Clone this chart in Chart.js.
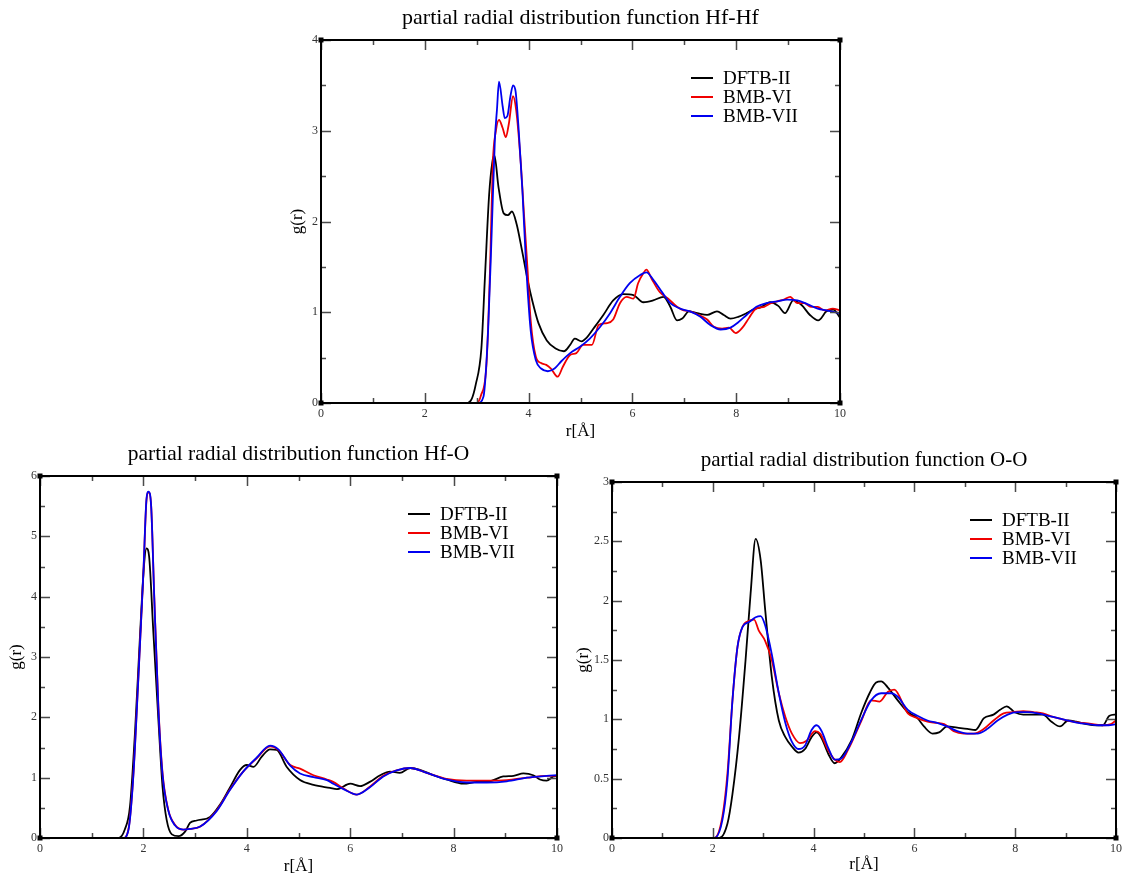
<!DOCTYPE html>
<html>
<head>
<meta charset="utf-8">
<script src="https://cdn.jsdelivr.net/npm/chart.js@4.4.1/dist/chart.umd.min.js"></script>
<style>
  html, body { margin: 0; padding: 0; background: #ffffff; }
  body { width: 1126px; height: 878px; position: relative; overflow: hidden; }
  canvas { position: absolute; }
</style>
</head>
<body>
<canvas id="cHfHf" width="600" height="445" style="left:270px; top:0px;"></canvas>
<canvas id="cHfO" width="580" height="448" style="left:0px; top:430px;"></canvas>
<canvas id="cOO" width="560" height="448" style="left:566px; top:430px;"></canvas>
<script>
// ---------------- DATA ----------------
const seriesNames = ['DFTB-II', 'BMB-VI', 'BMB-VII'];
const chartTitles = ['partial radial distribution function Hf-Hf', 'partial radial distribution function Hf-O', 'partial radial distribution function O-O'];
const xAxisTitle = 'r[Å]';
const yAxisTitle = 'g(r)';

// Hf-Hf
const hfhfDftbR = [0, 2.8, 2.9, 2.98, 3.09, 3.16, 3.24, 3.3, 3.34, 3.42, 3.52, 3.6, 3.68, 3.77, 3.87, 3.98, 4.07, 4.19, 4.35, 4.52, 4.68, 4.8, 4.89, 5.02, 5.12, 5.25, 5.44, 5.63, 5.82, 6.02, 6.21, 6.4, 6.6, 6.73, 6.86, 6.96, 7.09, 7.25, 7.44, 7.63, 7.76, 7.89, 8.04, 8.2, 8.33, 8.49, 8.65, 8.81, 8.94, 9.1, 9.26, 9.42, 9.58, 9.74, 9.87, 10];
const hfhfDftbG = [0, 0, 0.04, 0.2, 0.6, 1.4, 2.3, 2.65, 2.73, 2.38, 2.09, 2.07, 2.11, 1.97, 1.69, 1.36, 1.13, 0.88, 0.69, 0.6, 0.57, 0.64, 0.71, 0.68, 0.72, 0.82, 0.97, 1.13, 1.2, 1.19, 1.11, 1.13, 1.17, 1.06, 0.91, 0.93, 1.01, 0.99, 0.97, 1.01, 0.97, 0.93, 0.95, 0.99, 1.03, 1.06, 1.11, 1.07, 0.99, 1.13, 1.08, 0.97, 0.91, 1.01, 1.03, 0.94];
const hfhfBmb6R = [0, 3.0, 3.08, 3.19, 3.26, 3.31, 3.37, 3.43, 3.5, 3.56, 3.62, 3.7, 3.76, 3.85, 3.91, 3.98, 4.04, 4.14, 4.24, 4.34, 4.43, 4.56, 4.66, 4.8, 4.92, 5.05, 5.18, 5.22, 5.35, 5.51, 5.63, 5.76, 5.89, 6.02, 6.11, 6.21, 6.27, 6.37, 6.53, 6.69, 6.86, 6.99, 7.11, 7.28, 7.44, 7.57, 7.73, 7.86, 7.99, 8.12, 8.25, 8.38, 8.54, 8.67, 8.79, 8.92, 9.04, 9.18, 9.31, 9.44, 9.57, 9.7, 9.86, 10];
const hfhfBmb6G = [0, 0, 0.08, 0.44, 1.54, 2.64, 3.0, 3.12, 3.03, 2.93, 3.08, 3.38, 3.23, 2.64, 2.09, 1.47, 0.91, 0.51, 0.44, 0.42, 0.38, 0.29, 0.4, 0.53, 0.55, 0.64, 0.64, 0.64, 0.86, 0.88, 0.92, 1.1, 1.17, 1.15, 1.32, 1.43, 1.47, 1.37, 1.22, 1.15, 1.06, 1.02, 1.01, 0.97, 0.92, 0.84, 0.82, 0.83, 0.77, 0.83, 0.94, 1.04, 1.06, 1.1, 1.12, 1.14, 1.17, 1.1, 1.1, 1.06, 1.06, 1.02, 1.04, 1.02];
const hfhfBmb7R = [0, 3.02, 3.13, 3.22, 3.29, 3.35, 3.39, 3.43, 3.5, 3.54, 3.59, 3.65, 3.7, 3.75, 3.81, 3.88, 3.95, 4.04, 4.14, 4.24, 4.37, 4.5, 4.63, 4.8, 4.99, 5.18, 5.38, 5.57, 5.76, 5.95, 6.15, 6.27, 6.4, 6.56, 6.73, 6.92, 7.11, 7.31, 7.5, 7.7, 7.89, 8.04, 8.2, 8.39, 8.58, 8.79, 8.98, 9.18, 9.37, 9.57, 9.74, 10];
const hfhfBmb7G = [0, 0, 0.07, 0.8, 1.9, 2.9, 3.23, 3.54, 3.27, 3.14, 3.16, 3.38, 3.5, 3.43, 3.0, 2.35, 1.54, 0.8, 0.47, 0.38, 0.35, 0.38, 0.46, 0.55, 0.62, 0.71, 0.84, 0.99, 1.17, 1.32, 1.41, 1.44, 1.36, 1.23, 1.1, 1.04, 1.01, 0.95, 0.86, 0.81, 0.83, 0.89, 0.97, 1.06, 1.1, 1.12, 1.14, 1.13, 1.09, 1.04, 1.02, 0.99];

// Hf-O
const hfoDftbR = [0, 1.52, 1.64, 1.74, 1.84, 1.93, 2.01, 2.06, 2.11, 2.19, 2.29, 2.37, 2.45, 2.55, 2.68, 2.81, 2.9, 3.03, 3.29, 3.48, 3.67, 3.87, 4.0, 4.13, 4.29, 4.45, 4.58, 4.77, 5.03, 5.29, 5.61, 5.74, 6.0, 6.19, 6.38, 6.58, 6.77, 6.96, 7.16, 7.35, 7.61, 7.86, 8.19, 8.45, 8.7, 8.96, 9.16, 9.35, 9.54, 9.67, 9.8, 9.93, 10];
const hfoDftbG = [0, 0, 0.14, 0.52, 1.79, 3.28, 4.5, 4.8, 4.67, 3.45, 1.96, 0.85, 0.3, 0.06, 0.03, 0.11, 0.25, 0.29, 0.35, 0.55, 0.83, 1.13, 1.21, 1.18, 1.35, 1.47, 1.46, 1.18, 0.96, 0.88, 0.83, 0.81, 0.9, 0.86, 0.93, 1.04, 1.1, 1.08, 1.16, 1.13, 1.04, 0.97, 0.9, 0.93, 0.94, 1.02, 1.03, 1.07, 1.04, 0.97, 0.95, 1.02, 1.03];
const hfoBmb6R = [0, 1.61, 1.71, 1.8, 1.9, 2.0, 2.06, 2.1, 2.15, 2.21, 2.29, 2.37, 2.48, 2.61, 2.77, 2.9, 3.1, 3.42, 3.67, 3.93, 4.19, 4.45, 4.61, 4.84, 5.03, 5.29, 5.55, 5.67, 5.87, 6.13, 6.38, 6.64, 6.9, 7.16, 7.48, 7.86, 8.25, 8.64, 9.03, 9.42, 9.8, 10];
const hfoBmb6G = [0, 0, 0.14, 0.97, 2.62, 4.39, 5.6, 5.73, 5.5, 4.0, 2.18, 1.08, 0.47, 0.22, 0.14, 0.15, 0.19, 0.46, 0.8, 1.1, 1.32, 1.52, 1.46, 1.21, 1.15, 1.04, 0.97, 0.93, 0.82, 0.72, 0.85, 1.03, 1.12, 1.16, 1.08, 0.98, 0.95, 0.95, 0.96, 1.0, 1.03, 1.03];
const hfoBmb7R = [0, 1.61, 1.71, 1.8, 1.9, 2.0, 2.06, 2.1, 2.15, 2.21, 2.29, 2.37, 2.48, 2.61, 2.77, 2.9, 3.1, 3.42, 3.67, 3.93, 4.19, 4.45, 4.61, 4.84, 5.03, 5.29, 5.55, 5.67, 5.87, 6.13, 6.38, 6.64, 6.9, 7.16, 7.48, 7.86, 8.25, 8.64, 9.03, 9.42, 9.8, 10];
const hfoBmb7G = [0, 0, 0.13, 0.95, 2.6, 4.4, 5.62, 5.74, 5.5, 3.98, 2.15, 1.05, 0.46, 0.21, 0.14, 0.15, 0.19, 0.45, 0.79, 1.1, 1.33, 1.53, 1.47, 1.2, 1.07, 1.01, 0.96, 0.9, 0.81, 0.72, 0.84, 1.02, 1.12, 1.16, 1.08, 0.97, 0.92, 0.92, 0.94, 1.0, 1.03, 1.04];

// O-O
const ooDftbR = [0, 2.13, 2.29, 2.39, 2.52, 2.65, 2.75, 2.85, 2.95, 3.04, 3.17, 3.31, 3.44, 3.57, 3.7, 3.83, 3.96, 4.06, 4.16, 4.29, 4.42, 4.55, 4.75, 4.95, 5.11, 5.24, 5.34, 5.47, 5.67, 5.87, 6.06, 6.19, 6.36, 6.49, 6.65, 6.85, 7.05, 7.21, 7.38, 7.57, 7.7, 7.83, 7.99, 8.16, 8.36, 8.55, 8.72, 8.89, 9.05, 9.21, 9.41, 9.61, 9.74, 9.87, 10];
const ooDftbG = [0, 0, 0.12, 0.37, 0.85, 1.5, 2.06, 2.52, 2.34, 1.92, 1.36, 0.99, 0.85, 0.77, 0.72, 0.75, 0.85, 0.89, 0.84, 0.71, 0.63, 0.68, 0.82, 1.06, 1.22, 1.31, 1.32, 1.27, 1.16, 1.06, 1.01, 0.94, 0.88, 0.89, 0.94, 0.93, 0.92, 0.91, 1.01, 1.04, 1.08, 1.11, 1.06, 1.04, 1.04, 1.04, 0.98, 0.94, 0.99, 0.98, 0.96, 0.95, 0.95, 1.03, 1.04];
const ooBmb6R = [0, 2.03, 2.19, 2.29, 2.39, 2.49, 2.59, 2.72, 2.82, 2.91, 3.04, 3.17, 3.31, 3.44, 3.57, 3.73, 3.86, 4.03, 4.13, 4.29, 4.42, 4.52, 4.68, 4.95, 5.14, 5.31, 5.47, 5.6, 5.87, 6.06, 6.26, 6.45, 6.59, 6.78, 6.98, 7.18, 7.38, 7.57, 7.77, 7.96, 8.16, 8.36, 8.55, 8.75, 8.94, 9.14, 9.34, 9.54, 9.74, 9.9, 10];
const ooBmb6G = [0, 0, 0.18, 0.54, 1.16, 1.61, 1.78, 1.83, 1.84, 1.75, 1.66, 1.5, 1.22, 1.02, 0.88, 0.8, 0.82, 0.9, 0.88, 0.74, 0.66, 0.64, 0.74, 0.99, 1.16, 1.15, 1.23, 1.25, 1.05, 1.01, 0.98, 0.97, 0.96, 0.9, 0.88, 0.88, 0.92, 0.99, 1.05, 1.06, 1.07, 1.06, 1.05, 1.02, 1.0, 0.98, 0.97, 0.96, 0.95, 0.96, 0.99];
const ooBmb7R = [0, 2.03, 2.19, 2.29, 2.39, 2.49, 2.59, 2.72, 2.85, 2.95, 3.04, 3.17, 3.31, 3.44, 3.57, 3.7, 3.83, 3.96, 4.06, 4.16, 4.29, 4.42, 4.55, 4.75, 4.95, 5.14, 5.34, 5.54, 5.67, 5.87, 6.06, 6.26, 6.45, 6.65, 6.85, 7.05, 7.25, 7.45, 7.65, 7.85, 8.05, 8.25, 8.45, 8.65, 8.85, 9.05, 9.25, 9.45, 9.65, 9.85, 10];
const ooBmb7G = [0, 0, 0.15, 0.49, 1.16, 1.61, 1.78, 1.82, 1.86, 1.87, 1.79, 1.55, 1.22, 0.97, 0.81, 0.75, 0.78, 0.91, 0.95, 0.9, 0.76, 0.66, 0.67, 0.81, 1.0, 1.16, 1.22, 1.22, 1.19, 1.08, 1.03, 0.99, 0.97, 0.94, 0.9, 0.88, 0.88, 0.92, 0.99, 1.04, 1.06, 1.06, 1.05, 1.03, 1.01, 0.99, 0.97, 0.96, 0.95, 0.95, 0.96];

const seriesColors = ['#000000', '#f00000', '#0000f0'];

// ---------------- HELPERS ----------------
const SERIF = '"Liberation Serif", "DejaVu Serif", "Times New Roman", serif';

function pts(rs, gs) { return rs.map((r, i) => ({ x: r, y: gs[i] })); }

const framePlugin = {
  id: 'xmFrame',
  afterDatasetsDraw(chart, args, o) {
    const { ctx, chartArea: a } = chart;
    const xs = chart.scales.x, ys = chart.scales.y;
    ctx.save();
    ctx.strokeStyle = '#4a4a4a';
    ctx.lineWidth = 1.5;
    ctx.beginPath();
    for (let k = 0; ; k++) {
      const v = xs.min + k * o.xMinor;
      if (v > xs.max + 1e-9) break;
      const major = Math.abs(v / o.xMajor - Math.round(v / o.xMajor)) < 1e-6;
      const len = major ? 10 : 5;
      const px = Math.round(xs.getPixelForValue(v)) + 0.5;
      ctx.moveTo(px, a.bottom); ctx.lineTo(px, a.bottom - len);
      ctx.moveTo(px, a.top); ctx.lineTo(px, a.top + len);
    }
    for (let k = 0; ; k++) {
      const v = ys.min + k * o.yMinor;
      if (v > ys.max + 1e-9) break;
      const major = Math.abs(v / o.yMajor - Math.round(v / o.yMajor)) < 1e-6;
      const len = major ? 10 : 5;
      const py = Math.round(ys.getPixelForValue(v)) + 0.5;
      ctx.moveTo(a.left, py); ctx.lineTo(a.left + len, py);
      ctx.moveTo(a.right, py); ctx.lineTo(a.right - len, py);
    }
    ctx.stroke();
    ctx.strokeStyle = '#000';
    ctx.lineWidth = 2;
    ctx.strokeRect(a.left, a.top, a.right - a.left, a.bottom - a.top);
    ctx.fillStyle = '#000';
    [[a.left, a.top], [a.right, a.top], [a.left, a.bottom], [a.right, a.bottom]].forEach(([cx, cy]) => {
      ctx.fillRect(cx - 2.5, cy - 2.5, 5, 5);
    });
    ctx.font = '19px ' + SERIF;
    ctx.textBaseline = 'middle';
    ctx.textAlign = 'left';
    chart.data.datasets.forEach((ds, i) => {
      const y = a.top + o.legendTop + i * 19;
      const x0 = a.right - o.legendRight;
      ctx.strokeStyle = ds.borderColor;
      ctx.lineWidth = 2;
      ctx.beginPath();
      ctx.moveTo(x0, y); ctx.lineTo(x0 + 22, y);
      ctx.stroke();
      ctx.fillStyle = '#000';
      ctx.fillText(ds.label, x0 + 32, y + 1);
    });
    ctx.restore();
  }
};

function makeChart(id, cfg) {
  const datasets = cfg.series.map((s, i) => ({
    label: seriesNames[i],
    data: pts(s[0], s[1]),
    borderColor: seriesColors[i],
    backgroundColor: seriesColors[i],
    borderWidth: 1.8,
    pointRadius: 0,
    fill: false,
    cubicInterpolationMode: 'monotone',
    order: 3 - i
  }));
  return new Chart(document.getElementById(id), {
    type: 'line',
    data: { datasets },
    plugins: [framePlugin],
    options: {
      responsive: false,
      animation: false,
      layout: { padding: { left: 0, top: 0, right: cfg.padRight, bottom: 0 } },
      plugins: {
        legend: { display: false },
        tooltip: { enabled: false },
        title: {
          display: true,
          text: cfg.title,
          fullSize: false,
          color: '#000',
          font: { family: SERIF, size: cfg.titleSize, weight: 'normal', lineHeight: 1.2 },
          padding: { top: cfg.titleTop, bottom: cfg.titleBottom }
        },
        xmFrame: {
          xMinor: 1, xMajor: 2,
          yMinor: cfg.yMinor, yMajor: cfg.yMajor,
          legendTop: 38, legendRight: cfg.legendRight
        }
      },
      scales: {
        x: {
          type: 'linear', min: 0, max: 10,
          grid: { display: false, drawTicks: false },
          border: { display: false },
          ticks: { stepSize: 2, padding: 4, color: '#333', font: { family: SERIF, size: 12 }, callback: v => String(v), maxRotation: 0 },
          title: { display: true, text: xAxisTitle, color: '#000', font: { family: SERIF, size: 17, lineHeight: 1.2 }, padding: { top: 0, bottom: cfg.xTitlePad } },
          afterFit: s => { s.height = cfg.xHeight; }
        },
        y: {
          type: 'linear', min: 0, max: cfg.yMax,
          grid: { display: false, drawTicks: false },
          border: { display: false },
          ticks: { stepSize: cfg.yMajor, padding: 3, color: '#333', font: { family: SERIF, size: 12 }, callback: v => String(v) },
          title: { display: true, text: yAxisTitle, color: '#000', font: { family: SERIF, size: 17, lineHeight: 1.2 }, padding: { top: cfg.yTitlePad, bottom: 0 } },
          afterFit: s => { s.width = cfg.yWidth; }
        }
      }
    }
  });
}

makeChart('cHfHf', {
  title: chartTitles[0],
  series: [[hfhfDftbR, hfhfDftbG], [hfhfBmb6R, hfhfBmb6G], [hfhfBmb7R, hfhfBmb7G]],
  yMax: 4, yMajor: 1, yMinor: 0.5,
  padRight: 30, titleSize: 22, titleTop: 4.8, titleBottom: 8.8,
  xHeight: 42, yWidth: 51, xTitlePad: 2.8, yTitlePad: 17.4,
  legendRight: 149
});
makeChart('cHfO', {
  title: chartTitles[1],
  series: [[hfoDftbR, hfoDftbG], [hfoBmb6R, hfoBmb6G], [hfoBmb7R, hfoBmb7G]],
  yMax: 6, yMajor: 1, yMinor: 0.5,
  padRight: 23, titleSize: 21.5, titleTop: 11.1, titleBottom: 9.1,
  xHeight: 40, yWidth: 40, xTitlePad: 0.8, yTitlePad: 6.8,
  legendRight: 149
});
makeChart('cOO', {
  title: chartTitles[2],
  series: [[ooDftbR, ooDftbG], [ooBmb6R, ooBmb6G], [ooBmb7R, ooBmb7G]],
  yMax: 3, yMajor: 0.5, yMinor: 0.25,
  padRight: 6, titleSize: 21, titleTop: 17.4, titleBottom: 9.4,
  xHeight: 40, yWidth: 46, xTitlePad: 3.1, yTitlePad: 7.8,
  legendRight: 146
});
</script>
</body>
</html>
